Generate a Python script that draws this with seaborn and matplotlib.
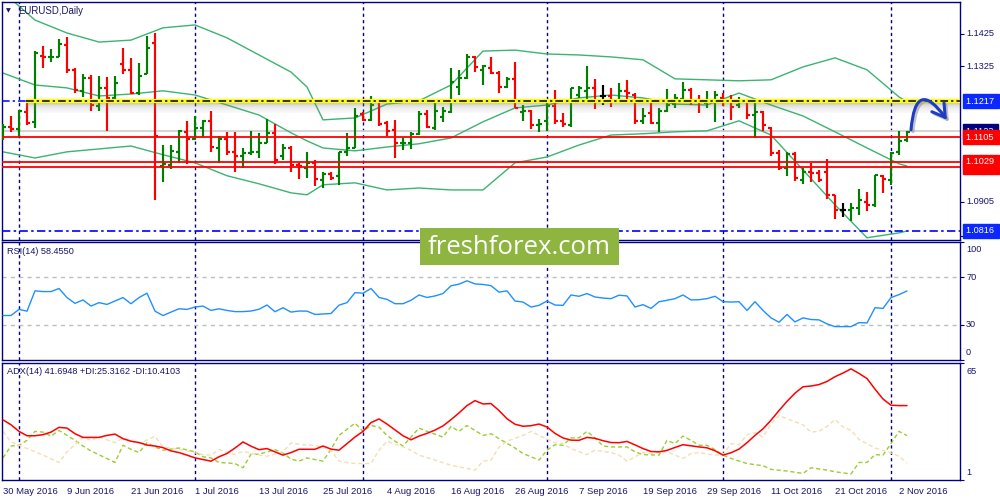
import numpy as np
import matplotlib
matplotlib.use("Agg")
import matplotlib.pyplot as plt
import seaborn as sns
from matplotlib.transforms import blended_transform_factory
from matplotlib.patches import Rectangle

# ---------------- data ----------------
date_label_idx = [0, 8, 16, 24, 32, 40, 48, 56, 64, 72, 80, 88, 96, 104, 112]
date_labels = ['30 May 2016', '9 Jun 2016', '21 Jun 2016', '1 Jul 2016', '13 Jul 2016',
               '25 Jul 2016', '4 Aug 2016', '16 Aug 2016', '26 Aug 2016', '7 Sep 2016',
               '19 Sep 2016', '29 Sep 2016', '11 Oct 2016', '21 Oct 2016', '2 Nov 2016']
month_sep_idx = [2, 24, 45, 68, 90, 111]

open_ = [1.1112, 1.1138, 1.1131, 1.1183, 1.1152, 1.1357, 1.1354, 1.1355, 1.1391, 1.1314,
         1.1249, 1.1290, 1.1203, 1.1259, 1.1226, 1.1332, 1.1314, 1.1241, 1.1302, 1.1396,
         1.1017, 1.1020, 1.1061, 1.1121, 1.1100, 1.1133, 1.1154, 1.1073, 1.1100, 1.1061,
         1.1047, 1.1056, 1.1058, 1.1088, 1.1118, 1.1047, 1.1073, 1.1018, 1.1009, 1.1025,
         1.0973, 1.0992, 1.0984, 1.1061, 1.1073, 1.1177, 1.1159, 1.1218, 1.1149, 1.1128,
         1.1086, 1.1087, 1.1115, 1.1177, 1.1133, 1.1169, 1.1183, 1.1262, 1.1288, 1.1353,
         1.1314, 1.1321, 1.1305, 1.1262, 1.1285, 1.1183, 1.1187, 1.1143, 1.1154, 1.1203,
         1.1154, 1.1143, 1.1236, 1.1247, 1.1259, 1.1233, 1.1233, 1.1216, 1.1247, 1.1236,
         1.1154, 1.1180, 1.1149, 1.1187, 1.1208, 1.1224, 1.1252, 1.1221, 1.1211, 1.1213,
         1.1228, 1.1218, 1.1205, 1.1214, 1.1174, 1.1183, 1.1133, 1.1056, 1.1011, 1.1053,
         1.0973, 1.0999, 1.0994, 1.0999, 1.0925, 1.0880, 1.0880, 1.0886, 1.0906, 1.0896,
         1.0984, 1.0973, 1.1059, 1.1097]
high = [1.1145, 1.1172, 1.1190, 1.1214, 1.1372, 1.1389, 1.1379, 1.1410, 1.1416, 1.1319,
        1.1300, 1.1298, 1.1296, 1.1293, 1.1295, 1.1383, 1.1350, 1.1336, 1.1420, 1.1427,
        1.1081, 1.1081, 1.1127, 1.1154, 1.1171, 1.1159, 1.1187, 1.1109, 1.1120, 1.1120,
        1.1071, 1.1125, 1.1118, 1.1161, 1.1145, 1.1085, 1.1078, 1.1025, 1.1058, 1.1035,
        1.0999, 1.0999, 1.1061, 1.1118, 1.1195, 1.1183, 1.1234, 1.1224, 1.1154, 1.1159,
        1.1102, 1.1121, 1.1187, 1.1190, 1.1221, 1.1200, 1.1321, 1.1314, 1.1362, 1.1358,
        1.1329, 1.1353, 1.1311, 1.1293, 1.1337, 1.1205, 1.1190, 1.1162, 1.1214, 1.1252,
        1.1180, 1.1259, 1.1264, 1.1326, 1.1285, 1.1267, 1.1259, 1.1272, 1.1283, 1.1241,
        1.1197, 1.1214, 1.1195, 1.1254, 1.1238, 1.1277, 1.1259, 1.1236, 1.1249, 1.1247,
        1.1241, 1.1236, 1.1231, 1.1214, 1.1210, 1.1187, 1.1138, 1.1066, 1.1058, 1.1058,
        1.1009, 1.1025, 1.1004, 1.1038, 1.0927, 1.0901, 1.0901, 1.0945, 1.0937, 1.0989,
        1.0989, 1.1059, 1.1123, 1.1125]
low = [1.1097, 1.1121, 1.1109, 1.1143, 1.1133, 1.1321, 1.1337, 1.1353, 1.1303, 1.1241,
       1.1231, 1.1185, 1.1185, 1.1125, 1.1221, 1.1300, 1.1238, 1.1236, 1.1302, 1.0911,
       1.0968, 1.1006, 1.1025, 1.1022, 1.1097, 1.1107, 1.1058, 1.1025, 1.1051, 1.0999,
       1.1011, 1.1051, 1.1040, 1.1087, 1.1022, 1.1035, 1.0999, 1.0976, 1.0978, 1.0953,
       1.0949, 1.0973, 1.0956, 1.1048, 1.1071, 1.1154, 1.1156, 1.1140, 1.1110, 1.1042,
       1.1066, 1.1069, 1.1112, 1.1133, 1.1127, 1.1152, 1.1180, 1.1236, 1.1286, 1.1306,
       1.1267, 1.1300, 1.1241, 1.1257, 1.1195, 1.1154, 1.1130, 1.1121, 1.1123, 1.1145,
       1.1138, 1.1138, 1.1228, 1.1224, 1.1193, 1.1205, 1.1200, 1.1210, 1.1214, 1.1147,
       1.1147, 1.1147, 1.1121, 1.1183, 1.1195, 1.1214, 1.1205, 1.1180, 1.1195, 1.1152,
       1.1203, 1.1159, 1.1195, 1.1162, 1.1102, 1.1125, 1.1046, 1.1004, 1.0984, 1.0970,
       1.0960, 1.0966, 1.0968, 1.0914, 1.0852, 1.0857, 1.0846, 1.0865, 1.0877, 1.0888,
       1.0932, 1.0958, 1.1051, 1.1090]
close_ = [1.1138, 1.1131, 1.1185, 1.1149, 1.1365, 1.1354, 1.1355, 1.1394, 1.1314, 1.1251,
          1.1290, 1.1205, 1.1259, 1.1228, 1.1272, 1.1312, 1.1241, 1.1296, 1.1381, 1.1109,
          1.1023, 1.1063, 1.1123, 1.1100, 1.1135, 1.1154, 1.1076, 1.1099, 1.1059, 1.1048,
          1.1056, 1.1059, 1.1087, 1.1118, 1.1035, 1.1073, 1.1020, 1.1015, 1.1025, 1.0975,
          1.0992, 1.0980, 1.1061, 1.1071, 1.1172, 1.1159, 1.1205, 1.1146, 1.1125, 1.1086,
          1.1087, 1.1115, 1.1177, 1.1138, 1.1185, 1.1187, 1.1275, 1.1288, 1.1353, 1.1322,
          1.1327, 1.1303, 1.1262, 1.1286, 1.1197, 1.1187, 1.1143, 1.1147, 1.1203, 1.1154,
          1.1145, 1.1257, 1.1257, 1.1259, 1.1216, 1.1233, 1.1216, 1.1247, 1.1241, 1.1154,
          1.1172, 1.1149, 1.1187, 1.1205, 1.1228, 1.1252, 1.1216, 1.1213, 1.1216, 1.1236,
          1.1218, 1.1200, 1.1214, 1.1174, 1.1183, 1.1143, 1.1056, 1.1011, 1.1053, 1.0978,
          1.0999, 1.0994, 1.0973, 1.0927, 1.0880, 1.0880, 1.0886, 1.0911, 1.0896, 1.0987,
          1.0976, 1.1056, 1.1094, 1.1121]

band_idx = [0, 4, 8, 12, 16, 20, 24, 28, 32, 36, 38, 40, 44, 48, 52, 56, 60, 64, 68, 72,
            76, 80, 84, 88, 92, 96, 100, 104, 108, 112, 113]
band_upper = [1.1555, 1.1468, 1.1428, 1.1400, 1.1406, 1.1444, 1.1453, 1.1413, 1.1360, 1.1307,
              1.1261, 1.1159, 1.1165, 1.1208, 1.1218, 1.1267, 1.1372, 1.1375, 1.1363, 1.1360,
              1.1354, 1.1345, 1.1286, 1.1283, 1.1280, 1.1283, 1.1323, 1.1351, 1.1314, 1.1230,
              1.1215]
band_middle = [1.1304, 1.1267, 1.1258, 1.1233, 1.1239, 1.1249, 1.1236, 1.1205, 1.1174, 1.1119,
               1.1094, 1.1072, 1.1063, 1.1075, 1.1085, 1.1103, 1.1153, 1.1196, 1.1205, 1.1227,
               1.1236, 1.1227, 1.1208, 1.1205, 1.1242, 1.1205, 1.1171, 1.1122, 1.1072, 1.1023,
               1.1016]
band_lower = [1.1060, 1.1041, 1.1060, 1.1069, 1.1078, 1.1051, 1.1026, 1.0986, 1.0961, 1.0933,
              1.0927, 1.0958, 1.0964, 1.0942, 1.0948, 1.0942, 1.0942, 1.1026, 1.1044, 1.1081,
              1.1112, 1.1116, 1.1122, 1.1125, 1.1156, 1.1112, 1.1004, 1.0896, 1.0794, 1.0809,
              1.0815]

rsi = [37.7, 37.7, 42.9, 41.4, 58.6, 58.0, 58.0, 60.6, 52.9, 48.0,
       50.9, 45.7, 48.6, 47.1, 50.0, 52.9, 47.7, 52.9, 56.6, 41.4,
       37.7, 40.6, 43.4, 42.9, 44.9, 45.7, 42.0, 43.4, 42.0, 41.0,
       41.0, 41.5, 43.0, 46.6, 40.9, 44.3, 40.6, 41.5, 41.4, 38.6,
       39.0, 39.4, 46.5, 48.6, 57.1, 56.6, 60.6, 53.0, 51.4, 47.7,
       47.7, 50.6, 55.1, 53.0, 54.3, 56.3, 62.9, 64.3, 67.1, 64.5,
       64.0, 63.0, 57.5, 58.6, 50.0, 49.1, 44.9, 46.3, 50.0, 46.6,
       46.3, 55.1, 54.0, 56.3, 53.4, 52.5, 52.0, 54.9, 54.3, 44.9,
       46.9, 43.7, 49.4, 50.6, 52.0, 55.1, 50.9, 51.1, 52.0, 54.0,
       49.4, 49.1, 49.4, 42.0, 49.4, 42.0, 35.7, 32.0, 38.6, 32.3,
       35.7, 34.3, 34.0, 30.6, 28.3, 28.3, 28.3, 31.7, 31.4, 44.3,
       43.7, 52.9, 55.4, 58.5]

adx = [33.9, 31.2, 27.6, 25.2, 25.2, 25.8, 27.2, 29.8, 29.4, 26.3,
       24.3, 24.3, 24.3, 25.4, 26.1, 23.6, 22.2, 21.5, 20.1, 19.6,
       18.7, 16.9, 16.0, 14.6, 13.1, 12.2, 11.3, 13.7, 15.5, 18.5,
       21.8, 19.5, 17.6, 18.2, 16.4, 14.6, 16.0, 17.8, 17.8, 17.8,
       19.6, 17.9, 17.3, 20.9, 24.5, 27.6, 32.4, 34.4, 31.6, 28.4,
       25.2, 23.0, 25.0, 26.5, 28.3, 30.6, 34.0, 37.7, 41.7, 44.4,
       42.6, 42.8, 39.0, 34.5, 31.5, 30.4, 30.7, 31.6, 30.0, 26.5,
       24.0, 22.8, 22.7, 24.3, 23.8, 22.5, 21.5, 21.4, 22.1, 20.2,
       18.2, 16.6, 16.4, 17.2, 18.8, 20.3, 19.7, 19.1, 18.6, 17.0,
       14.6, 15.9, 17.9, 21.4, 25.4, 29.0, 33.7, 39.0, 44.0, 48.5,
       52.0, 52.4, 53.2, 54.9, 57.5, 59.5, 61.8, 59.3, 56.5, 50.7,
       45.3, 41.9, 41.7, 41.7]

plus_di_idx = [0, 1, 2, 3, 4, 5, 6, 7, 9, 10, 11, 14, 15, 16, 17, 18, 19, 20, 22, 24, 25, 26,
               27, 29, 30, 31, 32, 34, 35, 36, 37, 38, 40, 41, 42, 44, 45, 46, 47, 48, 49, 50,
               52, 53, 55, 56, 57, 58, 60, 61, 62, 64, 65, 67, 68, 69, 70, 71, 72, 73, 74, 75,
               76, 78, 79, 80, 82, 83, 84, 85, 86, 87, 88, 89, 90, 91, 93, 95, 96, 98, 100,
               101, 103, 104, 106, 107, 108, 109, 110, 111, 112, 113]
plus_di = [13.1, 19.6, 20.0, 22.7, 27.6, 27.2, 25.0, 28.1, 22.7, 19.6, 16.9, 10.6, 20.0, 17.8,
           16.0, 21.4, 19.1, 17.3, 18.5, 16.4, 13.7, 13.1, 10.6, 10.0, 7.7, 15.1, 15.1, 17.6,
           15.8, 12.4, 11.3, 13.1, 11.3, 17.8, 25.4, 32.1, 27.6, 30.8, 29.9, 25.4, 22.2, 19.6,
           29.4, 27.6, 24.5, 30.3, 27.6, 30.8, 25.4, 26.3, 23.6, 18.5, 15.5, 11.9, 17.3, 20.3,
           20.0, 24.0, 24.1, 27.6, 24.0, 19.6, 19.1, 19.1, 16.4, 14.9, 14.6, 22.7, 20.9, 25.0,
           22.7, 20.0, 20.0, 17.6, 14.6, 12.8, 10.0, 8.8, 6.8, 5.9, 4.6, 7.7, 6.4, 5.5, 4.3,
           10.6, 10.6, 14.9, 14.6, 20.9, 27.6, 25.3]

minus_di_idx = [0, 1, 3, 5, 7, 8, 10, 11, 12, 14, 15, 17, 19, 20, 22, 25, 26, 27, 29, 30, 32,
                33, 35, 36, 38, 39, 41, 42, 44, 46, 47, 48, 50, 51, 52, 54, 56, 58, 59, 60, 61,
                62, 63, 65, 66, 67, 69, 70, 71, 73, 74, 76, 77, 78, 80, 81, 83, 84, 85, 86, 87,
                89, 90, 91, 92, 93, 94, 95, 96, 97, 98, 100, 101, 102, 103, 104, 105, 106, 107,
                109, 111, 112, 113]
minus_di = [27.6, 21.8, 18.2, 14.6, 10.6, 16.4, 24.5, 22.7, 24.5, 21.4, 24.0, 20.9, 24.9, 19.1,
            17.8, 14.9, 14.6, 17.6, 14.9, 16.7, 14.6, 14.0, 16.4, 21.3, 20.0, 20.0, 17.3, 11.3,
            10.0, 10.0, 17.3, 22.2, 19.1, 17.3, 14.6, 11.9, 9.1, 7.3, 6.4, 11.3, 11.9, 19.0,
            22.2, 25.4, 27.6, 25.4, 21.4, 20.9, 18.2, 14.9, 17.3, 16.0, 14.6, 11.3, 16.0, 15.5,
            16.4, 14.6, 12.8, 15.5, 16.0, 14.6, 14.9, 20.9, 20.3, 25.8, 26.9, 24.5, 31.7, 36.3,
            34.5, 31.2, 27.2, 27.6, 30.3, 34.1, 30.0, 28.1, 23.2, 18.5, 15.8, 14.0, 10.4]

level_resist = 1.1217
level_last = 1.1123
levels_red = [1.1105, 1.1029, 1.1014]
level_support = 1.0816
main_axis_ticks = [1.1425, 1.1325, 1.0905, 1.0800]

# ---------------- style ----------------
NAVY = '#000080'
TXT = '#15156e'
GREEN = '#008000'
RED = '#FF0000'
BAND = '#3CB371'

sns.set_style('white')
plt.rcParams['font.family'] = ['Liberation Sans', 'DejaVu Sans']
plt.rcParams['font.size'] = 6.6

W, H = 1000.0, 500.0
fig = plt.figure(figsize=(10, 5), dpi=100)
fig.patch.set_facecolor('white')


def rect(x0, y0, x1, y1):
    return [x0 / W, 1 - y1 / H, (x1 - x0) / W, (y1 - y0) / H]


ax_main = fig.add_axes(rect(2, 2, 960, 240))
ax_rsi = fig.add_axes(rect(2, 242, 960, 360))
ax_adx = fig.add_axes(rect(2, 363, 960, 480))
XMIN, XMAX = -0.125, 119.625

for ax in (ax_main, ax_rsi, ax_adx):
    ax.set_facecolor('white')
    for s in ax.spines.values():
        s.set_color(NAVY)
        s.set_linewidth(1.0)
    for m in month_sep_idx:
        ax.axvline(m, color=NAVY, lw=1.0, ls=(0, (2.3, 2.3)), zorder=1)
    ax.yaxis.tick_right()
    ax.tick_params(axis='y', direction='out', length=3, color=NAVY, labelright=False,
                   labelleft=False, width=0.8)

# ---------------- main panel ----------------
idx = np.arange(len(close_))
o = np.array(open_); c = np.array(close_)
bar_colors = np.where(c > o, GREEN, np.where(c < o, RED, 'black'))
ax_main.vlines(idx, low, high, colors=bar_colors, lw=1.55, zorder=3)
ax_main.hlines(o, idx - 0.4, idx, colors=bar_colors, lw=1.55, zorder=3)
ax_main.hlines(c, idx, idx + 0.4, colors=bar_colors, lw=1.55, zorder=3)

for band in (band_upper, band_middle, band_lower):
    sns.lineplot(x=band_idx, y=band, ax=ax_main, color=BAND, lw=1.0, zorder=2.5)

# horizontal levels
ax_main.axhline(level_last, color='#D0D0D0', lw=1.3, zorder=2)
for lv in levels_red:
    ax_main.axhline(lv, color=RED, lw=1.3, zorder=4)
ax_main.axhline(level_support, color='#0000FF', lw=1.2, ls=(0, (5, 2, 1.5, 2)), zorder=4)

# resistance: shadow + yellow + dash-dot
yel_start = 2.9
ppx = (1.1524 - 1.0787) / 238.0
prof_px = np.linspace(4, -12, 64)
alpha = np.where(prof_px > 0, 0.3 * np.exp(-prof_px / 1.5), 0.7 * np.exp(prof_px / 4.5))
grad = np.zeros((len(prof_px), 1, 4))
grad[:, 0, :3] = 0.5
grad[:, 0, 3] = alpha
ax_main.imshow(grad, extent=[yel_start, XMAX, level_resist - 12 * ppx, level_resist + 4 * ppx],
               aspect='auto', zorder=4, interpolation='bilinear')
ax_main.hlines(level_resist, yel_start, XMAX, color='#FFFF00', lw=3.0, zorder=5)
ax_main.hlines(level_resist, yel_start, XMAX, color='black', lw=1.1,
               ls=(0, (5, 2, 1.5, 2)), zorder=6)
ax_main.hlines(level_resist, XMIN, yel_start, color='#0000FF', lw=1.1,
               ls=(0, (5, 2, 1.5, 2)), zorder=6)

ax_main.set_xlim(XMIN, XMAX)
ax_main.set_ylim(1.0787, 1.1524)
ax_main.set_xticks([])
ax_main.set_yticks(main_axis_ticks)
ax_main.set_xlabel(''); ax_main.set_ylabel('')

# hand drawn arrow (annotation)
for dx, dy, col, a in ((0.25, -0.0006, '#808080', 0.45), (0, 0, '#1f3cc8', 1.0)):
    ax_main.annotate('', xy=(118.0 + dx, 1.1159 + dy), xytext=(113.5 + dx, 1.1128 + dy),
                     arrowprops=dict(arrowstyle='->,head_length=0.75,head_width=0.45',
                                     connectionstyle='arc3,rad=-1.35', color=col, lw=2.2,
                                     alpha=a, shrinkA=0, shrinkB=0, mutation_scale=12),
                     annotation_clip=False, zorder=8)


def right_label(ax, y, s, fc=None, z=5):
    tr = blended_transform_factory(ax.transAxes, ax.transData)
    kw = dict(transform=tr, ha='left', va='center', fontsize=6.6, clip_on=False, zorder=z)
    if fc:
        ax.text(1.0063, y, s + ' ', color='white',
                bbox=dict(boxstyle='square,pad=0.28', fc=fc, ec=fc), **kw)
    else:
        ax.text(1.0063, y, s, color=TXT, **kw)


for t in main_axis_ticks:
    right_label(ax_main, t, f'{t:.4f}', z=3)
right_label(ax_main, level_resist, f'{level_resist:.4f}', fc='#0A28FF', z=6)
right_label(ax_main, level_last, f'{level_last:.4f}', fc=NAVY, z=5)
right_label(ax_main, levels_red[0], f'{levels_red[0]:.4f}', fc=RED, z=7)
right_label(ax_main, levels_red[2], f'{levels_red[2]:.4f}', fc=RED, z=5)
right_label(ax_main, levels_red[1], f'{levels_red[1]:.4f}', fc=RED, z=7)
right_label(ax_main, level_support, f'{level_support:.4f}', fc='#0A28FF', z=7)

# ---------------- RSI ----------------
ax_rsi.set_xlim(XMIN, XMAX)
ax_rsi.set_ylim(0, 100)
for lv in (70, 30):
    ax_rsi.axhline(lv, color='#BEBEBE', lw=1.0, ls=(0, (3, 3)), zorder=1)
sns.lineplot(x=idx, y=rsi, ax=ax_rsi, color='#1E90FF', lw=1.0, zorder=3)
ax_rsi.set_xticks([])
ax_rsi.set_yticks([100, 70, 30, 0])
ax_rsi.set_xlabel(''); ax_rsi.set_ylabel('')
for v, s in ((93.5, '100'), (70, '70'), (30, '30'), (6, '0')):
    right_label(ax_rsi, v, s)

# ---------------- ADX ----------------
ax_adx.set_xlim(XMIN, XMAX)
ax_adx.set_ylim(1, 65)
sns.lineplot(x=plus_di_idx, y=plus_di, ax=ax_adx, color='#9ACD32', lw=1.0,
             linestyle=(0, (3, 2)), zorder=2)
sns.lineplot(x=minus_di_idx, y=minus_di, ax=ax_adx, color='#F5DEB3', lw=1.0,
             linestyle=(0, (3, 2)), zorder=2)
sns.lineplot(x=idx, y=adx, ax=ax_adx, color=RED, lw=1.1, zorder=3)
ax_adx.set_yticks([65, 1])
ax_adx.set_xlabel(''); ax_adx.set_ylabel('')
for v, s in ((60.6, '65'), (5.3, '1')):
    right_label(ax_adx, v, s)
ax_adx.set_xticks(date_label_idx)
ax_adx.set_xticklabels(date_labels, ha='left')
ax_adx.tick_params(axis='x', direction='out', length=3, color=NAVY, labelsize=6.8,
                   labelcolor=TXT, pad=2, width=0.8)

# ---------------- texts ----------------
fig.text(6 / W, 1 - 11 / H, '\u25BC', fontsize=4.5, color=TXT, va='center', ha='left',
         family=['DejaVu Sans'])
fig.text(18 / W, 1 - 11 / H, 'EURUSD,Daily', fontsize=6.9, color=TXT, va='center', ha='left')
fig.text(7 / W, 1 - 251 / H, 'RSI(14) 58.4550', fontsize=6.6, color=TXT, va='center', ha='left')
fig.text(7 / W, 1 - 371 / H, 'ADX(14) 41.6948 +DI:25.3162 -DI:10.4103', fontsize=6.6,
         color=TXT, va='center', ha='left')

# watermark
fig.patches.append(Rectangle((420 / W, 1 - 265 / H), 199 / W, 37 / H, transform=fig.transFigure,
                             facecolor='#8DB53F', edgecolor='none', zorder=10))
fig.text(519.5 / W, 1 - 247.5 / H, 'freshforex.com', fontsize=18.5, color='white',
         ha='center', va='center', family=['Open Sans', 'DejaVu Sans'], zorder=11)

fig.savefig('out.png', dpi=100, facecolor='white')
